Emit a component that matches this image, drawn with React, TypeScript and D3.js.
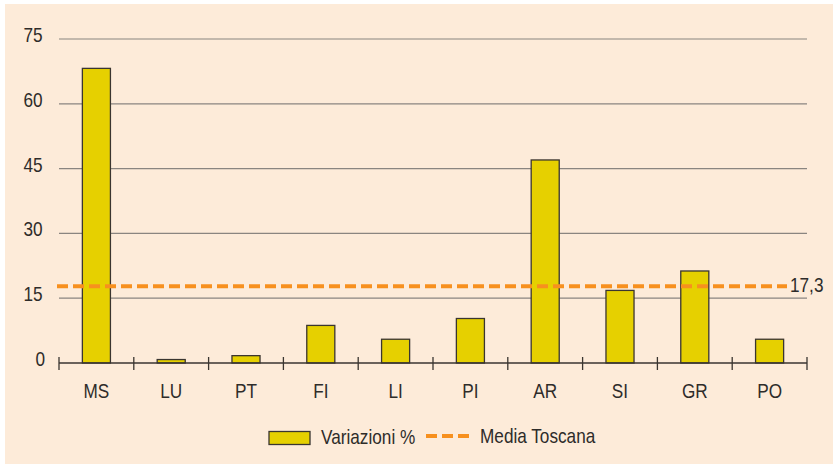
import { useEffect, useRef } from "react";
import * as d3 from "d3";

const categories = ["MS", "LU", "PT", "FI", "LI", "PI", "AR", "SI", "GR", "PO"];
const variazioni = [68.2, 0.8, 1.7, 8.7, 5.5, 10.3, 47, 16.8, 21.3, 5.5];
const mediaToscana = 17.3;
const yTicks = [0, 15, 30, 45, 60, 75];

const FONT = "'Liberation Sans', Arial, sans-serif";
const FS = 20;
const SX = 0.86; // horizontal squeeze to mimic the condensed face

export default function App() {
  const ref = useRef<SVGSVGElement | null>(null);

  useEffect(() => {
    const width = 833;
    const height = 464;
    const margin = { top: 39, right: 26, bottom: 101, left: 59 };

    const svg = d3.select(ref.current);
    svg.selectAll("*").remove();

    const label = (
      g: d3.Selection<any, any, any, any>,
      x: number,
      y: number,
      txt: string,
      anchor = "start"
    ) =>
      g
        .append("text")
        .attr("transform", `translate(${x},${y}) scale(${SX},1)`)
        .attr("text-anchor", anchor)
        .attr("font-family", FONT)
        .attr("font-size", FS)
        .attr("fill", "#2e2c2a")
        .text(txt);

    svg
      .append("rect")
      .attr("x", 5)
      .attr("y", 4)
      .attr("width", width - 5)
      .attr("height", height - 4)
      .attr("fill", "#fdebd9");

    const x = d3
      .scaleBand()
      .domain(categories)
      .range([margin.left, width - margin.right])
      .paddingInner(0)
      .paddingOuter(0);

    const y = d3
      .scaleLinear()
      .domain([0, 75])
      .range([height - margin.bottom, margin.top]);

    // gridlines
    svg
      .append("g")
      .selectAll("line")
      .data(yTicks.filter((d) => d > 0))
      .enter()
      .append("line")
      .attr("x1", margin.left)
      .attr("x2", width - margin.right)
      .attr("y1", (d) => y(d))
      .attr("y2", (d) => y(d))
      .attr("stroke", "#8a8580")
      .attr("stroke-width", 1.2);

    // y labels
    const yg = svg.append("g");
    yTicks.forEach((d) => {
      label(yg, d === 0 ? 45 : 42.5, y(d) + 3, String(d), "end");
    });

    // bars
    const barW = x.bandwidth() * 0.375;
    svg
      .append("g")
      .selectAll("rect")
      .data(categories.map((c, i) => ({ c, v: variazioni[i] })))
      .enter()
      .append("rect")
      .attr("x", (d) => x(d.c)! + x.bandwidth() / 2 - barW / 2)
      .attr("y", (d) => y(d.v))
      .attr("width", barW)
      .attr("height", (d) => y(0) - y(d.v))
      .attr("fill", "#e6d000")
      .attr("stroke", "#3a3530")
      .attr("stroke-width", 1.3);

    // x axis
    const axis = svg.append("g");
    axis
      .append("line")
      .attr("x1", margin.left)
      .attr("x2", width - margin.right)
      .attr("y1", y(0))
      .attr("y2", y(0))
      .attr("stroke", "#3a3530")
      .attr("stroke-width", 1.5);
    const tickPos = categories.map((c) => x(c)!).concat([width - margin.right]);
    axis
      .selectAll("line.tick")
      .data(tickPos)
      .enter()
      .append("line")
      .attr("class", "tick")
      .attr("x1", (d) => d)
      .attr("x2", (d) => d)
      .attr("y1", y(0) - 6)
      .attr("y2", y(0) + 7)
      .attr("stroke", "#3a3530")
      .attr("stroke-width", 1.3);
    categories.forEach((c) => {
      label(axis, x(c)! + x.bandwidth() / 2, y(0) + 35, c, "middle");
    });

    // media line
    svg
      .append("line")
      .attr("x1", margin.left - 2)
      .attr("x2", 787)
      .attr("y1", y(mediaToscana) - 2)
      .attr("y2", y(mediaToscana) - 2)
      .attr("stroke", "#f7901e")
      .attr("stroke-width", 4)
      .attr("stroke-dasharray", "11,5");
    label(svg, 790, y(mediaToscana) + 3.5, "17,3");

    // legend
    const leg = svg.append("g");
    leg
      .append("rect")
      .attr("x", 269)
      .attr("y", 431.5)
      .attr("width", 41)
      .attr("height", 13)
      .attr("fill", "#e6d000")
      .attr("stroke", "#3a3530")
      .attr("stroke-width", 1.3);
    label(leg, 321, 444, "Variazioni %");
    leg
      .append("line")
      .attr("x1", 426)
      .attr("x2", 470)
      .attr("y1", 436)
      .attr("y2", 436)
      .attr("stroke", "#f7901e")
      .attr("stroke-width", 4)
      .attr("stroke-dasharray", "11,5");
    label(leg, 480, 442.5, "Media Toscana");
  }, []);

  return (
    <svg
      ref={ref}
      width={833}
      height={464}
      style={{ position: "absolute", left: 0, top: 0, display: "block" }}
    />
  );
}
